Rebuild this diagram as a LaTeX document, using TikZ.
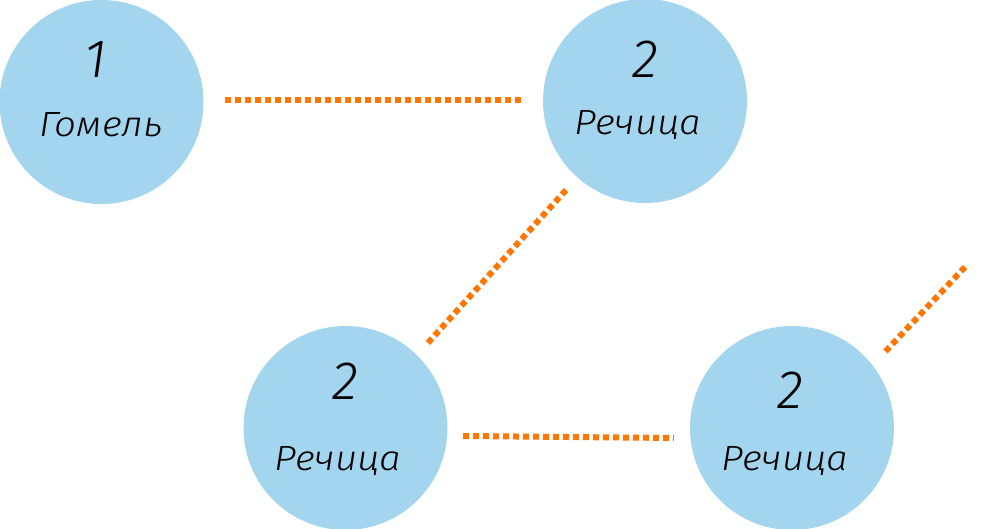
\documentclass[tikz,border=0pt]{standalone}
\usepackage{fontspec}
\newfontfamily\lbl{Fira Sans Light Italic}
\newfontfamily\lblwide{Fira Sans Light Italic}[FakeStretch=1.1]
\definecolor{nodeblue}{RGB}{163,213,239}
\definecolor{linkorange}{RGB}{255,118,0}
\begin{document}
\begin{tikzpicture}[x=1pt,y=-1pt,
  city/.style={circle,fill=nodeblue,minimum size=204pt,inner sep=0pt},
  num/.style={font=\lbl\fontsize{54}{54}\selectfont,anchor=base,text=black,inner sep=0pt},
  cityname/.style={font=\lblwide\fontsize{35}{35}\selectfont,anchor=base,text=black,inner sep=0pt},
  link/.style={draw=linkorange,line width=6pt,dash pattern=on 6pt off 4pt}]
\useasboundingbox (0,0) rectangle (1001,529);
% circles
\node[city] (c1) at (101.5,102) {};
\node[city] (c2) at (645,101) {};
\node[city] (c3) at (345.5,428) {};
\node[city] (c4) at (792,428) {};
% labels
\node[num] (n1) at (96,78) {1};
\node[cityname] (t1) at (101,137) {Гомель};
\node[num] (n2) at (645,78) {2};
\node[cityname] (t2) at (638,135) {Речица};
\node[num] (n3) at (345,399) {2};
\node[cityname] (t3) at (338,470) {Речица};
\node[num] (n4) at (790,408) {2};
\node[cityname] (t4) at (785,470) {Речица};
% link end points
\coordinate (a1) at (225,100);
\coordinate (b1) at (525,100);
\coordinate (a2) at (566,190);
\coordinate (b2) at (426,345);
\coordinate (a3) at (463,436);
\coordinate (b3) at (674,438);
\coordinate (a4) at (965,267);
\coordinate (b4) at (884,353);
\draw[link] (a1) -- (b1);
\draw[link] (a2) -- (b2);
\draw[link] (a3) -- (b3);
\draw[link] (a4) -- (b4);
\end{tikzpicture}
\end{document}
